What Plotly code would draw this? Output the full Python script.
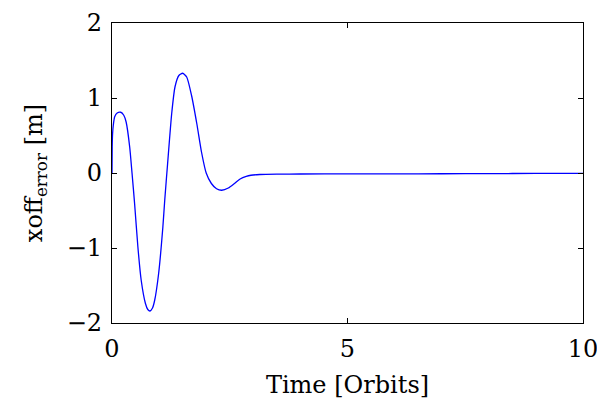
import plotly.graph_objects as go

time_orbits = [0.0, 0.004, 0.012, 0.028, 0.057, 0.11, 0.185, 0.25, 0.30, 0.375, 0.425,
               0.48, 0.55, 0.62, 0.71, 0.76, 0.807, 0.86, 0.905, 0.99, 1.08, 1.12, 1.18, 1.267,
               1.338, 1.42, 1.50, 1.586, 1.69, 1.80, 1.90, 2.0, 2.11, 2.22, 2.33,
               2.47, 2.6, 2.72, 2.85, 2.95, 3.14, 3.5, 4.0, 5.0, 6.0, 7.0, 8.0, 9.0, 10.0]
xoff_error = [0.0, 0.35, 0.52, 0.64, 0.75, 0.80, 0.81, 0.77, 0.68, 0.35, 0.0,
              -0.41, -0.99, -1.43, -1.74, -1.82, -1.84, -1.80, -1.70, -1.34, -0.72, -0.36, 0.12, 0.79,
              1.15, 1.30, 1.33, 1.28, 1.03, 0.66, 0.28, 0.0, -0.14, -0.21, -0.23,
              -0.20, -0.14, -0.08, -0.045, -0.03, -0.02, -0.015, -0.013, -0.012, -0.011, -0.01, -0.008, -0.006, -0.005]

x_ticks = [0, 5, 10]
y_ticks = [-2, -1, 0, 1, 2]
y_tick_text = ["\u22122", "\u22121", "0", "1", "2"]

FONT = "DejaVu Serif"
FS = 24

fig = go.Figure()
fig.add_trace(go.Scatter(x=time_orbits, y=xoff_error, mode="lines",
                         line=dict(color="#0000ff", width=1.3, shape="spline", smoothing=0.6),
                         showlegend=False))

axis_common = dict(showgrid=False, zeroline=False, showline=True, linecolor="black",
                   linewidth=1.2, mirror="allticks", ticks="inside", ticklen=5,
                   tickcolor="black", tickwidth=1, automargin=False,
                   ticklabeloverflow="allow",
                   tickfont=dict(family=FONT, size=FS, color="black"))

fig.update_layout(
    width=597, height=409,
    margin=dict(l=112, r=14, t=23, b=86),
    paper_bgcolor="white", plot_bgcolor="white",
    font=dict(family=FONT, color="black"),
    xaxis=dict(range=[0, 10], tickvals=x_ticks, ticktext=[str(v) for v in x_ticks],
               ticklabelstandoff=4,
               title=dict(text="Time [Orbits]", font=dict(family=FONT, size=FS), standoff=14),
               **axis_common),
    yaxis=dict(range=[-2, 2], tickvals=y_ticks, ticktext=y_tick_text,
               ticklabelstandoff=4,
               title=dict(text="xoff<sub>error</sub> [m]", font=dict(family=FONT, size=FS), standoff=17),
               **axis_common),
)

fig.write_html("out.html", config={"displayModeBar": False},
               post_script="document.body.style.margin='0';")
